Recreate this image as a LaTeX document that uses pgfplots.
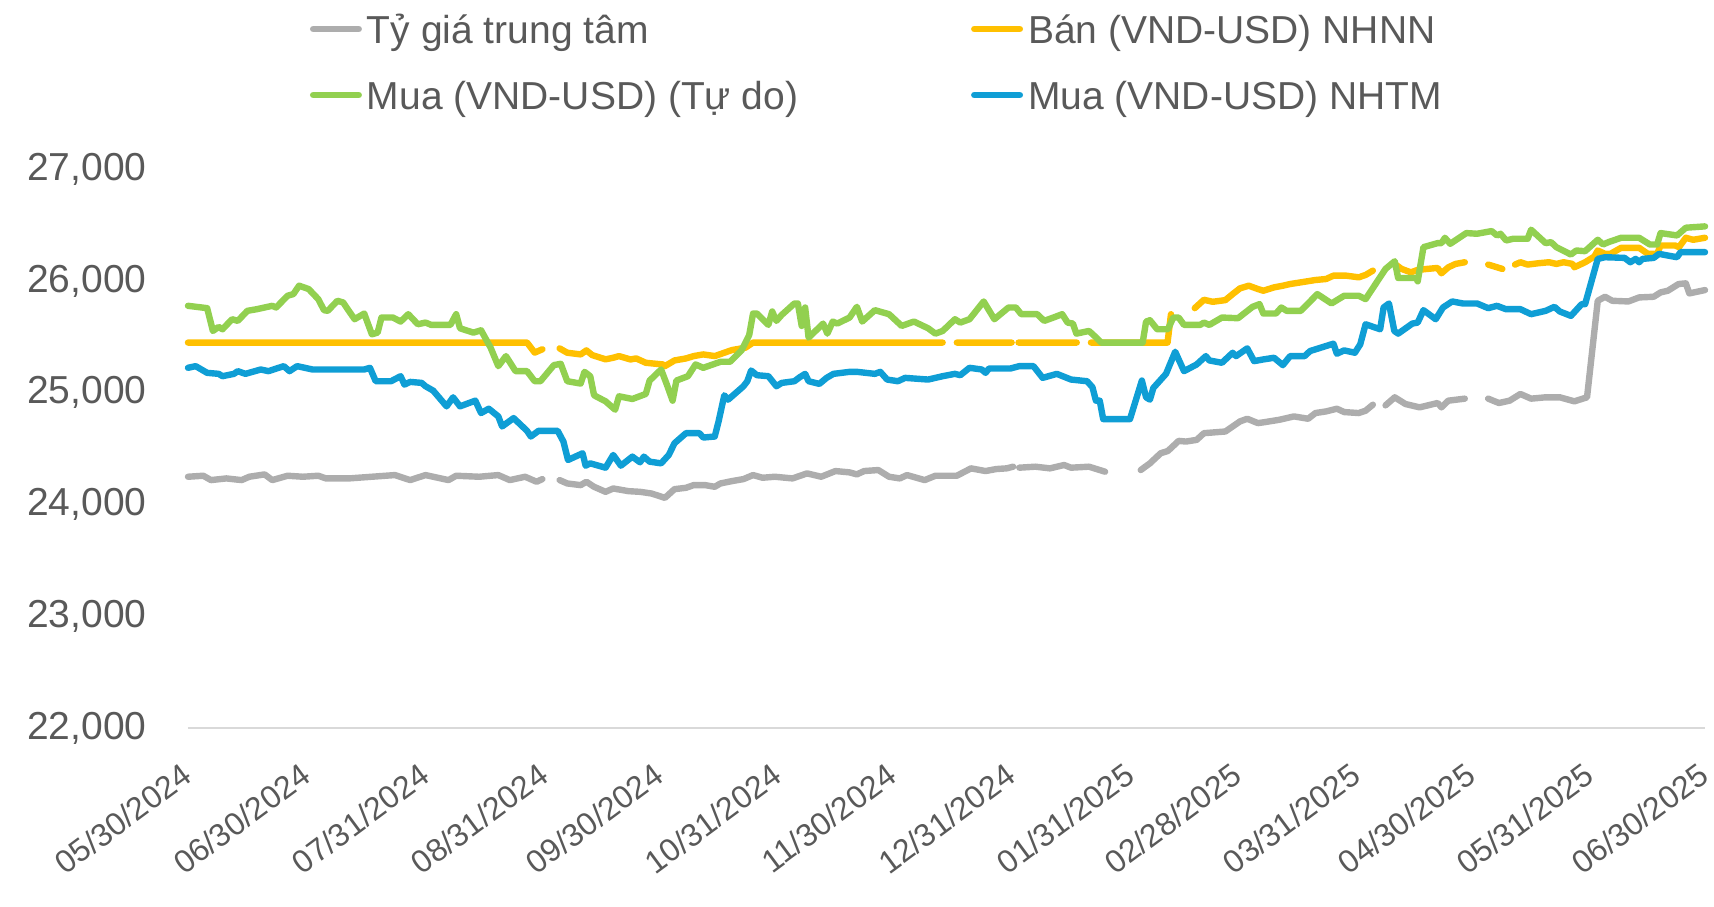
\documentclass[border=0pt]{standalone}
\usepackage{fontspec}
\setmainfont{Liberation Sans}
\usepackage{pgfplots}
\pgfplotsset{compat=1.18}
\definecolor{cgray}{HTML}{ADADAD}
\definecolor{cyel}{HTML}{FFC000}
\definecolor{cgreen}{HTML}{92D050}
\definecolor{cblue}{HTML}{0F9ED5}
\definecolor{ctext}{HTML}{595959}
\definecolor{caxis}{HTML}{D9D9D9}
\newcommand{\cfont}{\fontsize{19.5}{23}\selectfont}
\newcommand{\dfont}{\fontsize{16}{19}\selectfont}
\begin{document}
\begin{tikzpicture}
\useasboundingbox (0,0) rectangle (857pt,453pt);
\begin{axis}[
  at={(94pt,89pt)}, anchor=south west,
  scale only axis, width=758.5pt, height=279.3pt,
  xmin=0, xmax=396, ymin=22000, ymax=27000,
  clip=false,
  axis lines*=left,
  x axis line style={-, draw=caxis, line width=0.75pt},
  y axis line style={draw=none},
  major tick length=0pt,
  tick style={draw=none},
  scaled y ticks=false,
  ytick={22000,23000,24000,25000,26000,27000},
  /pgf/number format/1000 sep={,},
  /pgf/number format/assume math mode=true,
  yticklabel style={anchor=east, inner sep=0pt, xshift=-20.5pt, font=\cfont, text=ctext},
  xtick={0,31,62,93,123,154,184,215,246,274,305,335,366,396},
  xticklabels={05/30/2024,06/30/2024,07/31/2024,08/31/2024,09/30/2024,10/31/2024,11/30/2024,12/31/2024,01/31/2025,02/28/2025,03/31/2025,04/30/2025,05/31/2025,06/30/2025},
  xticklabel style={xshift=-3.75pt, yshift=-16.5pt, rotate=36.5, anchor=north east, inner sep=0pt, font=\dfont, text=ctext},
  unbounded coords=jump,
  every axis plot/.append style={line width=3.2pt, line join=round, line cap=round},
  legend columns=2,
  legend style={at={(axis description cs:0.0804,1.2764)}, anchor=north west,
    draw=none, fill=none, inner sep=0pt, outer sep=0pt,
    font=\cfont, text=ctext,
    row sep=14.5pt, column sep=2.5pt,
    /tikz/every even column/.append style={column sep=86.4pt},
    cells={anchor=base west},
    nodes={inner sep=0pt, text height=14pt, text depth=4.5pt}},
  legend image code/.code={\draw[#1, line width=3.3pt, line cap=round] (1.65pt,7pt) -- (24.35pt,7pt);},
]
\addplot[cgray] coordinates {(0,24249)(4,24258)(6,24219)(10,24234)(14,24219)(16,24249)(20,24270)(22,24219)(26,24258)(30,24249)(34,24258)(36,24234)(42,24234)(48,24249)(54,24264)(58,24219)(62,24264)(68,24219)(70,24258)(76,24249)(81,24264)(84,24219)(88,24249)(91,24204)(92.5,24228)(94,nan)(97,24219)(99,24189)(102.5,24174)(104,24204)(106,24159)(109,24114)(111,24144)(115,24120)(118,24114)(121,24099)(124.5,24060)(127,24138)(130,24150)(132,24174)(135,24174)(137.5,24159)(139,24189)(142,24210)(145,24228)(147.5,24264)(150,24240)(153.2,24249)(157.8,24234)(161.6,24279)(165.3,24249)(169,24300)(172.7,24288)(174.6,24270)(176.5,24300)(180.2,24309)(183,24249)(185.8,24234)(187.7,24264)(192.3,24219)(195.1,24258)(200.7,24258)(204.4,24324)(208.2,24300)(211,24318)(213.7,24324)(215.4,24339)(216,nan)(217,24330)(221.2,24339)(225,24324)(228.7,24354)(230.5,24330)(235.2,24339)(239.4,24294)(244,nan)(248.7,24309)(251.1,24369)(253.9,24459)(255.8,24480)(258.6,24570)(260.5,24564)(263.3,24579)(265.2,24639)(270.8,24654)(274.6,24744)(276.5,24768)(279.3,24729)(281.1,24738)(284.9,24759)(286.8,24774)(288.7,24789)(292.4,24768)(294.3,24819)(297.1,24834)(299.9,24858)(301.8,24828)(305.6,24819)(307.4,24840)(309.3,24894)(311,nan)(312.6,24888)(315,24960)(317.8,24900)(321.5,24870)(326.2,24909)(327.2,24870)(329,24930)(333.3,24948)(336,nan)(339.4,24948)(342.2,24909)(345,24930)(347.8,24990)(350.6,24948)(354.4,24960)(358.1,24960)(361.9,24924)(365.2,24960)(368,25824)(369.9,25860)(371.8,25824)(376,25818)(378.8,25854)(382.6,25860)(384.4,25899)(386.3,25914)(389.1,25974)(391,25980)(391.9,25890)(396,25920)};
\addlegendentry{Tỷ giá trung tâm}
\addplot[cyel] coordinates {(0,25450)(88.5,25450)(90.5,25360)(92.5,25390)(95,nan)(97,25398)(99,25359)(102.5,25344)(104,25380)(105.5,25338)(109,25300)(111,25314)(112.5,25329)(115.5,25299)(117,25308)(119.5,25269)(124,25254)(124.5,25239)(127,25290)(130,25308)(132,25329)(134.5,25344)(137.5,25329)(140,25359)(142,25383)(145.5,25404)(147.5,25450)(197,25450)(199,nan)(200.7,25450)(215,25450)(216,nan)(216.8,25450)(232,25450)(234,nan)(235.7,25450)(255.7,25450)(256.6,25704)(260,nan)(262.8,25758)(265.2,25833)(267.5,25815)(270.8,25830)(272.7,25884)(274.6,25935)(276.9,25959)(279.3,25929)(280.7,25914)(283.5,25944)(285.8,25959)(287.7,25974)(290.5,25989)(294.3,26010)(297.1,26019)(299,26049)(302.3,26049)(305.6,26034)(307.4,26055)(309.3,26094)(312,nan)(315,26154)(316.8,26109)(319.2,26079)(321,26100)(323.4,26109)(326.2,26118)(327.2,26070)(329,26124)(330.9,26154)(333.3,26169)(336,nan)(339.4,26148)(341.7,26124)(343.1,26109)(345,nan)(346.4,26148)(347.8,26169)(349.7,26148)(352.5,26160)(355.3,26169)(357.2,26154)(359.1,26169)(361.4,26154)(361.9,26124)(364.7,26169)(367.1,26220)(368,26274)(369.9,26244)(371.3,26244)(374.1,26298)(378.8,26298)(381.1,26244)(383.5,26244)(384.4,26319)(388.2,26319)(389.2,26304)(391,26388)(392.9,26370)(396,26388)};
\addlegendentry{Bán (VND-USD) NHNN}
\addplot[cgreen] coordinates {(0,25779)(5,25758)(6.5,25554)(8,25590)(9,25569)(11.5,25659)(13,25644)(15.5,25734)(18,25749)(22,25779)(23,25764)(26,25869)(27.5,25884)(29,25959)(31.5,25929)(34,25839)(35.5,25740)(36.5,25734)(39,25824)(40.5,25809)(41.5,25758)(43.5,25659)(46,25710)(48,25524)(49.5,25539)(50.5,25674)(53.5,25674)(55.5,25638)(57.5,25704)(60,25614)(62,25629)(63.5,25608)(68.5,25608)(70,25704)(71,25578)(74.5,25539)(76.5,25560)(79,25404)(81,25239)(83,25329)(85.5,25194)(88.5,25194)(90.5,25104)(92,25104)(95.5,25248)(97.3,25260)(99,25104)(102.5,25083)(103.5,25188)(105,25149)(106,24978)(109,24924)(111.5,24849)(112.5,24969)(116,24945)(119.5,24990)(120.5,25110)(123.5,25209)(125,25074)(126.5,24930)(127.5,25110)(130.5,25149)(132.5,25254)(134.5,25224)(139,25278)(141.5,25278)(144.5,25380)(146.5,25518)(147.5,25710)(148.5,25710)(151.5,25608)(152.5,25728)(153.6,25644)(155,25698)(158.3,25800)(159.2,25800)(160.2,25599)(161.1,25764)(162,25494)(165.8,25620)(166.9,25530)(168.3,25638)(169.5,25620)(172.7,25674)(174.6,25770)(176,25638)(179.3,25740)(183,25704)(186.3,25599)(189.5,25638)(193.2,25578)(195.1,25530)(197,25554)(200.2,25659)(201.6,25629)(204,25659)(207.7,25818)(210.5,25659)(214.2,25764)(216.1,25764)(217.5,25704)(221.7,25704)(223.5,25644)(225.9,25674)(228.2,25704)(229.6,25629)(231,25620)(231.9,25530)(235.2,25554)(237.1,25494)(238.4,25449)(249.2,25449)(250.1,25638)(251.1,25650)(253,25569)(255.8,25569)(257.2,25674)(258.6,25674)(260,25608)(264.2,25608)(265.2,25629)(266.6,25608)(269.9,25674)(274.1,25668)(277.9,25770)(279.7,25794)(280.7,25710)(284,25710)(285.4,25764)(286.8,25734)(290.5,25734)(294.8,25884)(298.5,25800)(301.8,25869)(305.6,25869)(307.4,25839)(312.6,26109)(315,26178)(315.9,26028)(320.6,26028)(321,25998)(322.5,26304)(326.2,26340)(327.2,26340)(328.1,26388)(329.5,26334)(333.7,26430)(336.5,26424)(340.3,26448)(341.7,26409)(342.6,26424)(344.1,26364)(345.9,26379)(349.7,26379)(350.6,26460)(354.4,26340)(355.8,26349)(357.2,26304)(361,26238)(362.4,26274)(364.7,26268)(368,26370)(369.4,26328)(370.8,26349)(374.1,26388)(378.8,26388)(381.6,26328)(383.5,26328)(384.4,26430)(388.7,26409)(391,26478)(396,26490)};
\addlegendentry{Mua (VND-USD) (Tự do)}
\addplot[cblue] coordinates {(0,25224)(2,25239)(5,25179)(8,25170)(9,25149)(12,25170)(13,25194)(15,25170)(19,25209)(21,25194)(25,25239)(26.5,25194)(28.5,25239)(32.5,25209)(38,25209)(46,25209)(47.5,25224)(49,25104)(53,25104)(55.5,25149)(56.5,25074)(58,25098)(61,25089)(62,25059)(64,25020)(67.5,24879)(69.2,24960)(71,24879)(75,24930)(76.5,24819)(78.5,24858)(81,24789)(82,24699)(85,24774)(88.5,24660)(89.5,24609)(91.5,24660)(96.5,24660)(98,24564)(99.2,24399)(103,24459)(103.8,24348)(105,24369)(109,24330)(111,24444)(113,24348)(116,24429)(118,24378)(119,24429)(120.5,24384)(123.5,24369)(125.5,24444)(127,24549)(130,24639)(133.5,24639)(134.5,24600)(137.5,24609)(138.5,24744)(140,24978)(141,24939)(145,25059)(146,25104)(147,25200)(148.5,25158)(151.5,25149)(153.6,25059)(155,25089)(158.3,25104)(159.7,25140)(161.1,25170)(162,25104)(164.8,25080)(166.7,25134)(168.5,25170)(172.7,25188)(174.6,25188)(179.3,25170)(180.7,25188)(182.5,25119)(185.3,25104)(187.2,25134)(193.2,25119)(197,25149)(200.2,25170)(201.6,25158)(204,25224)(207.2,25209)(208.2,25179)(209.1,25218)(214.7,25218)(217,25239)(220.7,25239)(223.1,25134)(226.8,25170)(230.5,25119)(234.7,25104)(236.1,25050)(237,24930)(238,24930)(238.9,24765)(245.9,24765)(249,25110)(250.1,24960)(251.1,24939)(252,25044)(255.3,25170)(257.7,25368)(260,25194)(263.3,25254)(265.7,25329)(266.6,25290)(269.9,25269)(272.7,25359)(273.6,25329)(276.5,25398)(278.3,25284)(280.7,25299)(283.5,25314)(285.8,25248)(287.7,25329)(291.5,25329)(292.9,25374)(299,25440)(299.9,25350)(301.8,25380)(304.6,25359)(306,25434)(307.4,25614)(311.2,25569)(312.1,25764)(313.5,25800)(314.9,25554)(315.9,25530)(319.6,25620)(321,25629)(322.5,25740)(325.7,25659)(327.6,25764)(330,25818)(332.8,25800)(336.5,25800)(339.4,25758)(341.7,25779)(344,25749)(347.8,25749)(350.6,25704)(354.4,25734)(356.7,25770)(358.1,25728)(361,25689)(363.8,25794)(364.7,25794)(368,26199)(369.9,26214)(375,26208)(376.5,26169)(377.9,26199)(378.8,26169)(379.7,26199)(382.6,26208)(384,26244)(386.3,26229)(388.7,26214)(389.6,26259)(396,26259)};
\addlegendentry{Mua (VND-USD) NHTM}
\end{axis}
\end{tikzpicture}
\end{document}
